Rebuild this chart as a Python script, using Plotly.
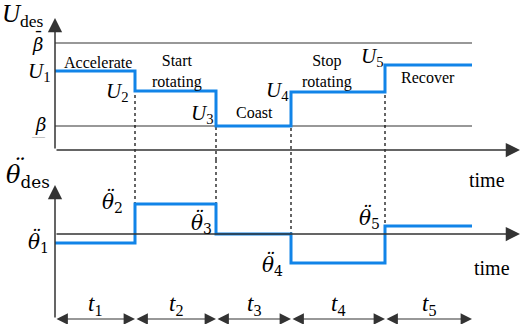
import plotly.graph_objects as go

# phase durations (time axis units) and step levels
durations = [80, 81, 75, 94, 87]
phases = ['Accelerate', 'Start<br>rotating', 'Coast', 'Stop<br>rotating', 'Recover']
u_values = [79, 59, 24, 58, 85]
theta_values = [-9, 30, 0, -29, 8]
beta_low = 24
beta_high = 107
u_labels = ['<i>U</i><sub>1</sub>', '<i>U</i><sub>2</sub>', '<i>U</i><sub>3</sub>',
            '<i>U</i><sub>4</sub>', '<i>U</i><sub>5</sub>']
theta_labels = ['<i>θ</i><sub>%d</sub>' % i for i in range(1, 6)]
t_labels = ['<i>t</i><sub>%d</sub>' % i for i in range(1, 6)]

edges = [0]
for d in durations:
    edges.append(edges[-1] + d)

BLUE = 'rgb(17,132,232)'
DARK = '#333333'
FONT = 'Liberation Serif, Times New Roman, serif'
GREEK = 'DejaVu Serif'

fig = go.Figure()

# beta bounds
for b in [beta_low, beta_high]:
    fig.add_trace(go.Scatter(x=[edges[0], edges[-1]], y=[b, b], mode='lines',
                             line=dict(color=DARK, width=1.2), yaxis='y'))

# dotted phase guides
for k in range(1, 5):
    top = max(u_values[k - 1], u_values[k])
    bot = min(theta_values[k - 1], theta_values[k])
    fig.add_trace(go.Scatter(x=[edges[k], edges[k]], y=[top, -10], mode='lines',
                             line=dict(color='black', width=1.2, dash='dot'), yaxis='y'))
    fig.add_trace(go.Scatter(x=[edges[k], edges[k]], y=[74, bot], mode='lines',
                             line=dict(color='black', width=1.2, dash='dot'), yaxis='y2'))

# step signals
fig.add_trace(go.Scatter(x=edges, y=u_values + [u_values[-1]], mode='lines',
                         line=dict(color=BLUE, width=3, shape='hv'), yaxis='y'))
fig.add_trace(go.Scatter(x=edges, y=theta_values + [theta_values[-1]], mode='lines',
                         line=dict(color=BLUE, width=3, shape='hv'), yaxis='y2'))

ann = []


def arrow(x0, y0, x1, y1, yref, both=False):
    a = dict(x=x1, y=y1, ax=x0, ay=y0, xref='x', yref=yref, axref='x', ayref=yref,
             text='', showarrow=True, arrowhead=2, arrowsize=1.9, arrowwidth=1.5,
             arrowcolor=DARK, standoff=0, startstandoff=0)
    if both:
        a.update(arrowside='end+start', startarrowhead=2, startarrowsize=1.9, arrowwidth=1.2)
    ann.append(a)


# axes
arrow(0, 0, 0, 132, 'y')
arrow(0, 0, 465, 0, 'y')
arrow(0, -85, 0, 49, 'y2')
arrow(0, 0, 465, 0, 'y2')
for k in range(5):
    arrow(edges[k], -85, edges[k + 1], -85, 'y2', both=True)


def label(x, y, text, yref='y', size=18, family=FONT, color='black', dx=0, dy=0):
    ann.append(dict(x=x, y=y, xref='x', yref=yref, text=text, showarrow=False,
                    xshift=dx, yshift=dy,
                    font=dict(family=family, size=size, color=color)))


def ddot(x, y, yref, size, dx, dy):
    # second-derivative dots above theta
    label(x, y, '<i>¨</i>', yref=yref, size=size, family=GREEK, dx=dx, dy=dy)


label(-32, 135, '<i>U</i><sub>des</sub>', size=25)
label(-18, 106, '<i>β</i>', size=18, family=GREEK)
label(-18, 106, '¯', size=18, family=GREEK, dx=1, dy=6)
label(-15, 26, '<i>β</i>', size=18, family=GREEK)
label(-15, 26, '__', size=13, family=GREEK, color='#999999', dx=-1, dy=-6)
u_pos = [(-16, 78), (62, 58), (147, 36), (222, 59), (317, 93)]
for (x, y), t in zip(u_pos, u_labels):
    label(x, y, t, size=21)
p_pos = [(43, 88), (122, 79), (199, 38), (272, 79), (373, 73)]
for (x, y), t in zip(p_pos, phases):
    label(x, y, t, size=16)
label(432, -30, 'time', size=20)

label(-27, 58, '<i>θ</i><sub>des</sub>', yref='y2', size=24, family=GREEK)
ddot(-27, 58, 'y2', 24, -10, 8)
th_pos = [(-17, -9), (57, 31), (146, 10), (217, -32), (314, 15)]
for (x, y), t in zip(th_pos, theta_labels):
    label(x, y, t, yref='y2', size=20, family=GREEK)
    ddot(x, y, 'y2', 20, -3, 6)
label(437, -34, 'time', yref='y2', size=20)
for k in range(5):
    label((edges[k] + edges[k + 1]) / 2, -71, t_labels[k], yref='y2', size=23)

fig.update_layout(
    width=522, height=324,
    margin=dict(l=0, r=0, t=0, b=0),
    paper_bgcolor='white', plot_bgcolor='white',
    showlegend=False,
    xaxis=dict(range=[-55, 467], visible=False, fixedrange=True),
    yaxis=dict(range=[-174, 150], visible=False, fixedrange=True),
    yaxis2=dict(range=[-90, 234], visible=False, overlaying='y', fixedrange=True),
    annotations=ann,
)

fig.write_html("out.html", config=dict(displayModeBar=False),
               post_script="document.body.style.margin='0';")
